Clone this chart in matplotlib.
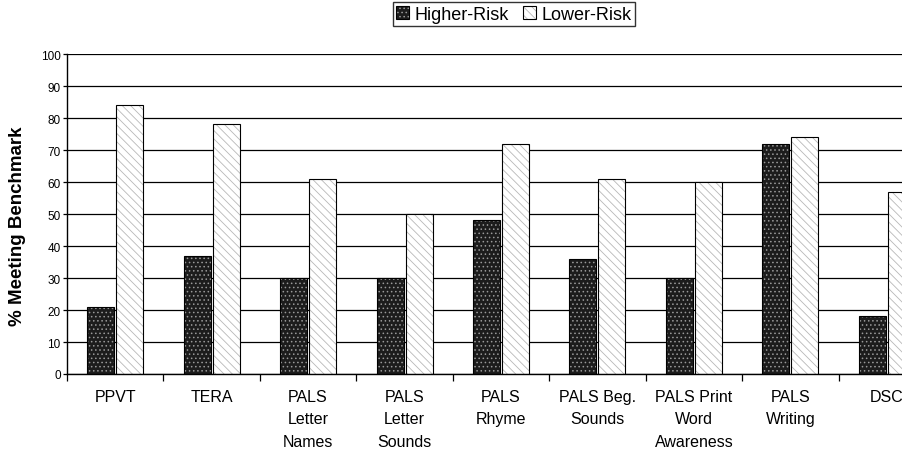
import numpy as np
import matplotlib.pyplot as plt

plt.rcParams['font.family'] = ['Liberation Sans', 'DejaVu Sans']
plt.rcParams['hatch.linewidth'] = 0.6

categories = ['PPVT', 'TERA', 'PALS\nLetter\nNames', 'PALS\nLetter\nSounds', 'PALS\nRhyme',
              'PALS Beg.\nSounds', 'PALS Print\nWord\nAwareness', 'PALS\nWriting', 'DSC']
higher_risk = [21, 37, 30, 30, 48, 36, 30, 72, 18]
lower_risk = [84, 78, 61, 50, 72, 61, 60, 74, 57]

x = np.arange(len(categories))
w = 0.28

fig = plt.figure(figsize=(9.02, 4.56), dpi=100)
# plot area runs past the right edge, as in the cropped scan
ax = fig.add_axes([67/902, 81/456, 868/902, 320/456])

ax.set_axisbelow(True)
ax.yaxis.grid(True, color='black', linewidth=0.9)

b1 = ax.bar(x - 0.15, higher_risk, w, color='#1c1c1c', edgecolor='black',
            linewidth=0.8, hatch='....', label='Higher-Risk')
b2 = ax.bar(x + 0.15, lower_risk, w, color='white', edgecolor='black',
            linewidth=0.8, hatch='\\\\\\\\', label='Lower-Risk')
for b in b1:
    b._hatch_color = (0.6, 0.6, 0.6, 1)
for b in b2:
    b._hatch_color = (0.72, 0.72, 0.72, 1)

ax.set_xlim(-0.5, len(categories) - 0.5)
ax.set_ylim(0, 100)
ax.set_yticks(range(0, 101, 10))
ax.tick_params(axis='y', labelsize=8.5, length=3, pad=1.5, direction='out', width=0.9)
ax.set_xticks(x)
ax.set_xticklabels(categories, fontsize=11.5, linespacing=1.6, va='top')
ax.tick_params(axis='x', length=0, pad=11)
ax.set_xticks(np.arange(-0.5, len(categories), 1), minor=True)
ax.tick_params(axis='x', which='minor', length=5, width=0.9)

for s in ['top', 'right']:
    ax.spines[s].set_visible(False)
ax.spines['left'].set_linewidth(1.0)
ax.spines['bottom'].set_linewidth(1.0)

fig.text(18/902, 1 - 226/456, '% Meeting Benchmark', rotation=90, fontsize=13.5,
         fontweight='bold', ha='center', va='center')

fig.legend(handles=[b1, b2], loc='center', bbox_to_anchor=(514/902, 1 - 15/456), ncol=2,
           fontsize=13, frameon=True, fancybox=False, edgecolor='black',
           handlelength=0.7, handleheight=0.7, handletextpad=0.3, columnspacing=0.8,
           borderpad=0.2, borderaxespad=0)

fig.savefig('out.png', dpi=100)
